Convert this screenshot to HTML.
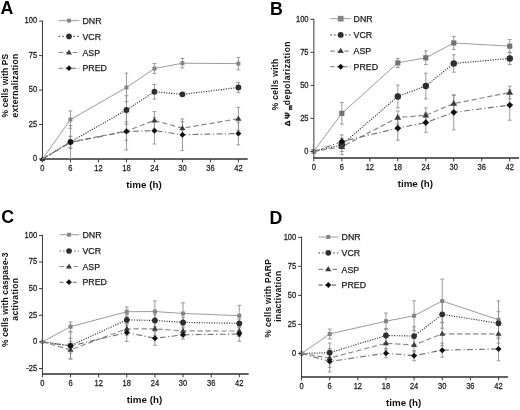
<!DOCTYPE html>
<html><head><meta charset="utf-8"><style>
html,body{margin:0;padding:0;background:#fff;}
body{width:520px;height:410px;overflow:hidden;}
svg{display:block;font-family:"Liberation Sans", sans-serif;will-change:transform;}

.tk{fill:#1c1c1c;stroke:#1c1c1c;stroke-width:0.25px;letter-spacing:0px;}
.lg{fill:#1c1c1c;stroke:#1c1c1c;stroke-width:0.25px;}
</style></head><body>
<svg width="520" height="410" viewBox="0 0 520 410">
<rect width="520" height="410" fill="#fff"/>
<g>
<text x="0.4" y="13.7" font-size="17.8" font-weight="bold" fill="#000">A</text>
<polygon points="42.46,156.15 45.2,160.82 39.72,160.82" fill="#111"/>
<polygon points="42.46,156.63 44.86,159.03 42.46,161.43 40.06,159.03" fill="#111"/>
<path d="M42.46 20.65V159" fill="none" stroke="#3a3a3a" stroke-width="1"/>
<path d="M41.96 159H247.72" fill="none" stroke="#2e2e2e" stroke-width="1.3"/>
<path d="M39.06 159.03H42.46" stroke="#3a3a3a" stroke-width="1"/>
<text transform="translate(37.16 161.33) scale(0.92 1)" font-size="8.2" text-anchor="end" class="tk">0</text>
<path d="M39.06 124.56H42.46" stroke="#3a3a3a" stroke-width="1"/>
<text transform="translate(37.16 126.86) scale(0.92 1)" font-size="8.2" text-anchor="end" class="tk">25</text>
<path d="M39.06 90.09H42.46" stroke="#3a3a3a" stroke-width="1"/>
<text transform="translate(37.16 92.39) scale(0.92 1)" font-size="8.2" text-anchor="end" class="tk">50</text>
<path d="M39.06 55.62H42.46" stroke="#3a3a3a" stroke-width="1"/>
<text transform="translate(37.16 57.92) scale(0.92 1)" font-size="8.2" text-anchor="end" class="tk">75</text>
<path d="M39.06 21.15H42.46" stroke="#3a3a3a" stroke-width="1"/>
<text transform="translate(37.16 23.45) scale(0.92 1)" font-size="8.2" text-anchor="end" class="tk">100</text>
<path d="M42.46 159V162.4" stroke="#3a3a3a" stroke-width="1"/>
<text transform="translate(42.46 171.2) scale(0.92 1)" font-size="8.2" text-anchor="middle" class="tk">0</text>
<path d="M70.45 159V162.4" stroke="#3a3a3a" stroke-width="1"/>
<text transform="translate(70.45 171.2) scale(0.92 1)" font-size="8.2" text-anchor="middle" class="tk">6</text>
<path d="M98.44 159V162.4" stroke="#3a3a3a" stroke-width="1"/>
<text transform="translate(98.44 171.2) scale(0.92 1)" font-size="8.2" text-anchor="middle" class="tk">12</text>
<path d="M126.43 159V162.4" stroke="#3a3a3a" stroke-width="1"/>
<text transform="translate(126.43 171.2) scale(0.92 1)" font-size="8.2" text-anchor="middle" class="tk">18</text>
<path d="M154.42 159V162.4" stroke="#3a3a3a" stroke-width="1"/>
<text transform="translate(154.42 171.2) scale(0.92 1)" font-size="8.2" text-anchor="middle" class="tk">24</text>
<path d="M182.41 159V162.4" stroke="#3a3a3a" stroke-width="1"/>
<text transform="translate(182.41 171.2) scale(0.92 1)" font-size="8.2" text-anchor="middle" class="tk">30</text>
<path d="M210.4 159V162.4" stroke="#3a3a3a" stroke-width="1"/>
<text transform="translate(210.4 171.2) scale(0.92 1)" font-size="8.2" text-anchor="middle" class="tk">36</text>
<path d="M238.39 159V162.4" stroke="#3a3a3a" stroke-width="1"/>
<text transform="translate(238.39 171.2) scale(0.92 1)" font-size="8.2" text-anchor="middle" class="tk">42</text>
<text x="143.96" y="188" font-size="9.8" font-weight="bold" text-anchor="middle" fill="#111">time (h)</text>
<text transform="translate(7.6 85.65) rotate(-90)" font-size="8.5" font-weight="bold" text-anchor="middle" textLength="63.8" lengthAdjust="spacing" fill="#111">% cells with PS</text>
<text transform="translate(17.9 85.65) rotate(-90)" font-size="8.5" font-weight="bold" text-anchor="middle" textLength="63.8" lengthAdjust="spacing" fill="#111">externalization</text>
<path d="M58.7 20.6H79.3" stroke="#9c9c9c" stroke-width="1.0"/>
<rect x="67.06" y="18.66" width="3.88" height="3.88" fill="#858585"/>
<text x="82.5" y="23.8" font-size="8.8" class="lg">DNR</text>
<path d="M58.7 36.4H79.3" stroke="#5a5a5a" stroke-width="1.15" stroke-dasharray="1.5,2.2"/>
<circle cx="69" cy="36.4" r="2.81" fill="#2e2e2e"/>
<text x="82.5" y="39.6" font-size="8.8" class="lg">VCR</text>
<path d="M58.7 52.5H79.3" stroke="#8a8a8a" stroke-width="1.2" stroke-dasharray="4.5,2.5"/>
<polygon points="69,49.4 71.95,54.42 66.05,54.42" fill="#3c3c3c"/>
<text x="82.5" y="55.7" font-size="8.8" class="lg">ASP</text>
<path d="M58.7 68.2H79.3" stroke="#707070" stroke-width="1.1" stroke-dasharray="4.2,2.4"/>
<polygon points="69,65.29 71.91,68.2 69,71.11 66.09,68.2" fill="#101010"/>
<text x="82.5" y="71.4" font-size="8.8" class="lg">PRED</text>
<path d="M70.45 110.91V128.28M68.55 110.91H72.35M68.55 128.28H72.35" stroke="#8e8e8e" stroke-width="0.9" fill="none"/>
<path d="M126.43 73.13V101.81M124.53 73.13H128.33M124.53 101.81H128.33" stroke="#8e8e8e" stroke-width="0.9" fill="none"/>
<path d="M154.42 63.48V73.68M152.52 63.48H156.32M152.52 73.68H156.32" stroke="#8e8e8e" stroke-width="0.9" fill="none"/>
<path d="M182.41 58.52V67.89M180.51 58.52H184.31M180.51 67.89H184.31" stroke="#8e8e8e" stroke-width="0.9" fill="none"/>
<path d="M238.39 57.41V69.82M236.49 57.41H240.29M236.49 69.82H240.29" stroke="#8e8e8e" stroke-width="0.9" fill="none"/>
<path d="M70.45 136.69V147.17M68.55 136.69H72.35M68.55 147.17H72.35" stroke="#8e8e8e" stroke-width="0.9" fill="none"/>
<path d="M126.43 95.74V124.15M124.53 95.74H128.33M124.53 124.15H128.33" stroke="#8e8e8e" stroke-width="0.9" fill="none"/>
<path d="M154.42 84.44V99.05M152.52 84.44H156.32M152.52 99.05H156.32" stroke="#8e8e8e" stroke-width="0.9" fill="none"/>
<path d="M182.41 92.3V96.43M180.51 92.3H184.31M180.51 96.43H184.31" stroke="#8e8e8e" stroke-width="0.9" fill="none"/>
<path d="M238.39 82.51V92.43M236.49 82.51H240.29M236.49 92.43H240.29" stroke="#8e8e8e" stroke-width="0.9" fill="none"/>
<path d="M70.45 125.53V158.62M68.55 125.53H72.35M68.55 158.62H72.35" stroke="#8e8e8e" stroke-width="0.9" fill="none"/>
<path d="M126.43 121.8V140.28M124.53 121.8H128.33M124.53 140.28H128.33" stroke="#8e8e8e" stroke-width="0.9" fill="none"/>
<path d="M154.42 111.6V129.25M152.52 111.6H156.32M152.52 129.25H156.32" stroke="#8e8e8e" stroke-width="0.9" fill="none"/>
<path d="M182.41 121.66V134.63M180.51 121.66H184.31M180.51 134.63H184.31" stroke="#8e8e8e" stroke-width="0.9" fill="none"/>
<path d="M238.39 107.33V130.21M236.49 107.33H240.29M236.49 130.21H240.29" stroke="#8e8e8e" stroke-width="0.9" fill="none"/>
<path d="M70.45 136.14V148.55M68.55 136.14H72.35M68.55 148.55H72.35" stroke="#8e8e8e" stroke-width="0.9" fill="none"/>
<path d="M126.43 112.98V149.93M124.53 112.98H128.33M124.53 149.93H128.33" stroke="#8e8e8e" stroke-width="0.9" fill="none"/>
<path d="M154.42 117.25V144M152.52 117.25H156.32M152.52 144H156.32" stroke="#8e8e8e" stroke-width="0.9" fill="none"/>
<path d="M182.41 118.91V150.62M180.51 118.91H184.31M180.51 150.62H184.31" stroke="#8e8e8e" stroke-width="0.9" fill="none"/>
<path d="M238.39 122.22V144.83M236.49 122.22H240.29M236.49 144.83H240.29" stroke="#8e8e8e" stroke-width="0.9" fill="none"/>
<polyline points="42.46,159.03 70.45,119.6 126.43,87.47 154.42,68.58 182.41,63.2 238.39,63.62" fill="none" stroke="#9c9c9c" stroke-width="1.0"/>
<polyline points="42.46,159.03 70.45,141.93 126.43,109.94 154.42,91.74 182.41,94.36 238.39,87.47" fill="none" stroke="#363636" stroke-width="1.15" stroke-dasharray="1.15,1.35"/>
<polyline points="42.46,159.03 70.45,142.07 126.43,131.04 154.42,120.42 182.41,128.14 238.39,118.77" fill="none" stroke="#8a8a8a" stroke-width="1.2" stroke-dasharray="5.2,2.8"/>
<polyline points="42.46,159.03 70.45,142.35 126.43,131.45 154.42,130.63 182.41,134.76 238.39,133.52" fill="none" stroke="#707070" stroke-width="1.1" stroke-dasharray="5.8,2.5,1.2,2.5"/>
<rect x="68.45" y="117.6" width="4" height="4" fill="#858585"/>
<rect x="124.43" y="85.47" width="4" height="4" fill="#858585"/>
<rect x="152.42" y="66.58" width="4" height="4" fill="#858585"/>
<rect x="180.41" y="61.2" width="4" height="4" fill="#858585"/>
<rect x="236.39" y="61.62" width="4" height="4" fill="#858585"/>
<circle cx="70.45" cy="141.93" r="2.9" fill="#2e2e2e"/>
<circle cx="126.43" cy="109.94" r="2.9" fill="#2e2e2e"/>
<circle cx="154.42" cy="91.74" r="2.9" fill="#2e2e2e"/>
<circle cx="182.41" cy="94.36" r="2.9" fill="#2e2e2e"/>
<circle cx="238.39" cy="87.47" r="2.9" fill="#2e2e2e"/>
<polygon points="70.45,138.87 73.49,144.05 67.41,144.05" fill="#3c3c3c"/>
<polygon points="126.43,127.84 129.47,133.02 123.39,133.02" fill="#3c3c3c"/>
<polygon points="154.42,117.22 157.46,122.41 151.38,122.41" fill="#3c3c3c"/>
<polygon points="182.41,124.94 185.45,130.13 179.37,130.13" fill="#3c3c3c"/>
<polygon points="238.39,115.57 241.43,120.75 235.35,120.75" fill="#3c3c3c"/>
<polygon points="70.45,139.35 73.45,142.35 70.45,145.35 67.45,142.35" fill="#101010"/>
<polygon points="126.43,128.45 129.43,131.45 126.43,134.45 123.43,131.45" fill="#101010"/>
<polygon points="154.42,127.63 157.42,130.63 154.42,133.63 151.42,130.63" fill="#101010"/>
<polygon points="182.41,131.76 185.41,134.76 182.41,137.76 179.41,134.76" fill="#101010"/>
<polygon points="238.39,130.52 241.39,133.52 238.39,136.52 235.39,133.52" fill="#101010"/>
<text x="270" y="15.1" font-size="17.8" font-weight="bold" fill="#000">B</text>
<polygon points="313.85,148.7 316.55,151.4 313.85,154.1 311.15,151.4" fill="#333"/>
<rect x="311.45" y="149" width="4.8" height="4.8" fill="#8a8a8a"/>
<path d="M313.85 18.84V158" fill="none" stroke="#3a3a3a" stroke-width="1"/>
<path d="M313.35 158H519.07" fill="none" stroke="#2e2e2e" stroke-width="1.3"/>
<path d="M310.45 151.4H313.85" stroke="#3a3a3a" stroke-width="1"/>
<text transform="translate(308.55 153.7) scale(0.92 1)" font-size="8.2" text-anchor="end" class="tk">0</text>
<path d="M310.45 118.39H313.85" stroke="#3a3a3a" stroke-width="1"/>
<text transform="translate(308.55 120.69) scale(0.92 1)" font-size="8.2" text-anchor="end" class="tk">25</text>
<path d="M310.45 85.37H313.85" stroke="#3a3a3a" stroke-width="1"/>
<text transform="translate(308.55 87.67) scale(0.92 1)" font-size="8.2" text-anchor="end" class="tk">50</text>
<path d="M310.45 52.36H313.85" stroke="#3a3a3a" stroke-width="1"/>
<text transform="translate(308.55 54.66) scale(0.92 1)" font-size="8.2" text-anchor="end" class="tk">75</text>
<path d="M310.45 19.34H313.85" stroke="#3a3a3a" stroke-width="1"/>
<text transform="translate(308.55 21.64) scale(0.92 1)" font-size="8.2" text-anchor="end" class="tk">100</text>
<path d="M313.85 158V161.4" stroke="#3a3a3a" stroke-width="1"/>
<text transform="translate(313.85 170.2) scale(0.92 1)" font-size="8.2" text-anchor="middle" class="tk">0</text>
<path d="M341.83 158V161.4" stroke="#3a3a3a" stroke-width="1"/>
<text transform="translate(341.83 170.2) scale(0.92 1)" font-size="8.2" text-anchor="middle" class="tk">6</text>
<path d="M369.82 158V161.4" stroke="#3a3a3a" stroke-width="1"/>
<text transform="translate(369.82 170.2) scale(0.92 1)" font-size="8.2" text-anchor="middle" class="tk">12</text>
<path d="M397.8 158V161.4" stroke="#3a3a3a" stroke-width="1"/>
<text transform="translate(397.8 170.2) scale(0.92 1)" font-size="8.2" text-anchor="middle" class="tk">18</text>
<path d="M425.79 158V161.4" stroke="#3a3a3a" stroke-width="1"/>
<text transform="translate(425.79 170.2) scale(0.92 1)" font-size="8.2" text-anchor="middle" class="tk">24</text>
<path d="M453.77 158V161.4" stroke="#3a3a3a" stroke-width="1"/>
<text transform="translate(453.77 170.2) scale(0.92 1)" font-size="8.2" text-anchor="middle" class="tk">30</text>
<path d="M481.75 158V161.4" stroke="#3a3a3a" stroke-width="1"/>
<text transform="translate(481.75 170.2) scale(0.92 1)" font-size="8.2" text-anchor="middle" class="tk">36</text>
<path d="M509.74 158V161.4" stroke="#3a3a3a" stroke-width="1"/>
<text transform="translate(509.74 170.2) scale(0.92 1)" font-size="8.2" text-anchor="middle" class="tk">42</text>
<text x="415.35" y="187" font-size="9.8" font-weight="bold" text-anchor="middle" fill="#111">time (h)</text>
<text transform="translate(278.4 84.5) rotate(-90)" font-size="8.5" font-weight="bold" text-anchor="middle" textLength="51.3" lengthAdjust="spacing" fill="#111">% cells with</text>
<text transform="translate(289.5 123.25) rotate(-90)" font-size="8.0" font-weight="bold" text-anchor="middle" textLength="5.4" lengthAdjust="spacing" fill="#111" stroke="#111" stroke-width="0.35">Δ</text>
<text transform="translate(289.5 115.4) rotate(-90)" font-size="8.0" font-weight="bold" text-anchor="middle" textLength="6.7" lengthAdjust="spacing" fill="#111" stroke="#111" stroke-width="0.35">Ψ</text>
<text transform="translate(291.8 107.7) rotate(-90)" font-size="5.8" font-weight="bold" text-anchor="middle" textLength="3.7" lengthAdjust="spacing" fill="#111" stroke="#111" stroke-width="0.35">m</text>
<text transform="translate(289.5 73.3) rotate(-90)" font-size="8.5" font-weight="bold" text-anchor="middle" textLength="63.7" lengthAdjust="spacing" fill="#111">depolarization</text>
<path d="M330.3 18.7H350.9" stroke="#9c9c9c" stroke-width="1.0"/>
<rect x="337.84" y="15.84" width="5.71" height="5.71" fill="#858585"/>
<text x="353.6" y="21.9" font-size="8.8" class="lg">DNR</text>
<path d="M330.3 34.9H350.9" stroke="#5a5a5a" stroke-width="1.15" stroke-dasharray="1.5,2.2"/>
<circle cx="340.7" cy="34.9" r="2.96" fill="#2e2e2e"/>
<text x="353.6" y="38.1" font-size="8.8" class="lg">VCR</text>
<path d="M330.3 51.1H350.9" stroke="#8a8a8a" stroke-width="1.2" stroke-dasharray="4.5,2.5"/>
<polygon points="340.7,47.84 343.8,53.12 337.6,53.12" fill="#3c3c3c"/>
<text x="353.6" y="54.3" font-size="8.8" class="lg">ASP</text>
<path d="M330.3 66.7H350.9" stroke="#707070" stroke-width="1.1" stroke-dasharray="4.2,2.4"/>
<polygon points="340.7,63.64 343.76,66.7 340.7,69.76 337.64,66.7" fill="#101010"/>
<text x="353.6" y="69.9" font-size="8.8" class="lg">PRED</text>
<path d="M341.83 102.54V124.2M339.93 102.54H343.73M339.93 124.2H343.73" stroke="#8e8e8e" stroke-width="0.9" fill="none"/>
<path d="M397.8 58.3V67.54M395.9 58.3H399.7M395.9 67.54H399.7" stroke="#8e8e8e" stroke-width="0.9" fill="none"/>
<path d="M425.79 50.9V64.64M423.89 50.9H427.69M423.89 64.64H427.69" stroke="#8e8e8e" stroke-width="0.9" fill="none"/>
<path d="M453.77 36.38V49.58M451.87 36.38H455.67M451.87 49.58H455.67" stroke="#8e8e8e" stroke-width="0.9" fill="none"/>
<path d="M509.74 39.55V52.75M507.84 39.55H511.64M507.84 52.75H511.64" stroke="#8e8e8e" stroke-width="0.9" fill="none"/>
<path d="M341.83 138.19V151.4M339.93 138.19H343.73M339.93 151.4H343.73" stroke="#8e8e8e" stroke-width="0.9" fill="none"/>
<path d="M397.8 85.11V107.82M395.9 85.11H399.7M395.9 107.82H399.7" stroke="#8e8e8e" stroke-width="0.9" fill="none"/>
<path d="M425.79 73.22V98.84M423.89 73.22H427.69M423.89 98.84H427.69" stroke="#8e8e8e" stroke-width="0.9" fill="none"/>
<path d="M453.77 54.73V72.16M451.87 54.73H455.67M451.87 72.16H455.67" stroke="#8e8e8e" stroke-width="0.9" fill="none"/>
<path d="M509.74 52.22V64.64M507.84 52.22H511.64M507.84 64.64H511.64" stroke="#8e8e8e" stroke-width="0.9" fill="none"/>
<path d="M341.83 138.85V154.7M339.93 138.85H343.73M339.93 154.7H343.73" stroke="#8e8e8e" stroke-width="0.9" fill="none"/>
<path d="M397.8 110.99V124.2M395.9 110.99H399.7M395.9 124.2H399.7" stroke="#8e8e8e" stroke-width="0.9" fill="none"/>
<path d="M425.79 107.95V122.48M423.89 107.95H427.69M423.89 122.48H427.69" stroke="#8e8e8e" stroke-width="0.9" fill="none"/>
<path d="M453.77 95.41V111.78M451.87 95.41H455.67M451.87 111.78H455.67" stroke="#8e8e8e" stroke-width="0.9" fill="none"/>
<path d="M509.74 86.16V98.84M507.84 86.16H511.64M507.84 98.84H511.64" stroke="#8e8e8e" stroke-width="0.9" fill="none"/>
<path d="M341.83 134.89V148.1M339.93 134.89H343.73M339.93 148.1H343.73" stroke="#8e8e8e" stroke-width="0.9" fill="none"/>
<path d="M397.8 116.14V140.17M395.9 116.14H399.7M395.9 140.17H399.7" stroke="#8e8e8e" stroke-width="0.9" fill="none"/>
<path d="M425.79 112.97V132.25M423.89 112.97H427.69M423.89 132.25H427.69" stroke="#8e8e8e" stroke-width="0.9" fill="none"/>
<path d="M453.77 94.75V129.87M451.87 94.75H455.67M451.87 129.87H455.67" stroke="#8e8e8e" stroke-width="0.9" fill="none"/>
<path d="M509.74 89.86V120.23M507.84 89.86H511.64M507.84 120.23H511.64" stroke="#8e8e8e" stroke-width="0.9" fill="none"/>
<polyline points="313.85,151.4 341.83,113.37 397.8,62.92 425.79,57.77 453.77,42.98 509.74,46.15" fill="none" stroke="#9c9c9c" stroke-width="1.0"/>
<polyline points="313.85,151.4 341.83,144.8 397.8,96.46 425.79,86.03 453.77,63.45 509.74,58.43" fill="none" stroke="#363636" stroke-width="1.15" stroke-dasharray="1.15,1.35"/>
<polyline points="313.85,151.4 341.83,146.78 397.8,117.59 425.79,115.22 453.77,103.59 509.74,92.5" fill="none" stroke="#8a8a8a" stroke-width="1.2" stroke-dasharray="5.2,2.8"/>
<polyline points="313.85,151.4 341.83,141.5 397.8,128.16 425.79,122.61 453.77,112.31 509.74,105.05" fill="none" stroke="#707070" stroke-width="1.1" stroke-dasharray="5.8,2.5,1.2,2.5"/>
<rect x="339.26" y="110.79" width="5.15" height="5.15" fill="#727272"/>
<rect x="395.23" y="60.34" width="5.15" height="5.15" fill="#727272"/>
<rect x="423.21" y="55.19" width="5.15" height="5.15" fill="#727272"/>
<rect x="451.19" y="40.4" width="5.15" height="5.15" fill="#727272"/>
<rect x="507.16" y="43.57" width="5.15" height="5.15" fill="#727272"/>
<circle cx="341.83" cy="144.8" r="3.25" fill="#2e2e2e"/>
<circle cx="397.8" cy="96.46" r="3.25" fill="#2e2e2e"/>
<circle cx="425.79" cy="86.03" r="3.25" fill="#2e2e2e"/>
<circle cx="453.77" cy="63.45" r="3.25" fill="#2e2e2e"/>
<circle cx="509.74" cy="58.43" r="3.25" fill="#2e2e2e"/>
<polygon points="341.83,143.19 345.24,149 338.43,149" fill="#3c3c3c"/>
<polygon points="397.8,114.01 401.21,119.81 394.4,119.81" fill="#3c3c3c"/>
<polygon points="425.79,111.63 429.19,117.44 422.38,117.44" fill="#3c3c3c"/>
<polygon points="453.77,100.01 457.17,105.82 450.37,105.82" fill="#3c3c3c"/>
<polygon points="509.74,88.92 513.14,94.72 506.33,94.72" fill="#3c3c3c"/>
<polygon points="341.83,138.14 345.19,141.5 341.83,144.86 338.47,141.5" fill="#101010"/>
<polygon points="397.8,124.8 401.16,128.16 397.8,131.52 394.44,128.16" fill="#101010"/>
<polygon points="425.79,119.25 429.15,122.61 425.79,125.97 422.43,122.61" fill="#101010"/>
<polygon points="453.77,108.95 457.13,112.31 453.77,115.67 450.41,112.31" fill="#101010"/>
<polygon points="509.74,101.69 513.1,105.05 509.74,108.41 506.38,105.05" fill="#101010"/>
<text x="1.2" y="223.4" font-size="17.8" font-weight="bold" fill="#000">C</text>
<polygon points="42.43,338.88 45.43,341.88 42.43,344.88 39.43,341.88" fill="#808080"/>
<rect x="41.23" y="340.68" width="2.4" height="2.4" fill="#d4d4d4"/>
<path d="M42.43 234.9V374" fill="none" stroke="#3a3a3a" stroke-width="1"/>
<path d="M41.93 374H248.66" fill="none" stroke="#2e2e2e" stroke-width="1.3"/>
<path d="M39.03 368.5H42.43" stroke="#3a3a3a" stroke-width="1"/>
<text transform="translate(37.13 370.8) scale(0.92 1)" font-size="8.2" text-anchor="end" class="tk">-25</text>
<path d="M39.03 341.88H42.43" stroke="#3a3a3a" stroke-width="1"/>
<text transform="translate(37.13 344.18) scale(0.92 1)" font-size="8.2" text-anchor="end" class="tk">0</text>
<path d="M39.03 315.26H42.43" stroke="#3a3a3a" stroke-width="1"/>
<text transform="translate(37.13 317.56) scale(0.92 1)" font-size="8.2" text-anchor="end" class="tk">25</text>
<path d="M39.03 288.64H42.43" stroke="#3a3a3a" stroke-width="1"/>
<text transform="translate(37.13 290.94) scale(0.92 1)" font-size="8.2" text-anchor="end" class="tk">50</text>
<path d="M39.03 262.02H42.43" stroke="#3a3a3a" stroke-width="1"/>
<text transform="translate(37.13 264.32) scale(0.92 1)" font-size="8.2" text-anchor="end" class="tk">75</text>
<path d="M39.03 235.4H42.43" stroke="#3a3a3a" stroke-width="1"/>
<text transform="translate(37.13 237.7) scale(0.92 1)" font-size="8.2" text-anchor="end" class="tk">100</text>
<path d="M42.43 374V377.4" stroke="#3a3a3a" stroke-width="1"/>
<text transform="translate(42.43 386.2) scale(0.92 1)" font-size="8.2" text-anchor="middle" class="tk">0</text>
<path d="M70.55 374V377.4" stroke="#3a3a3a" stroke-width="1"/>
<text transform="translate(70.55 386.2) scale(0.92 1)" font-size="8.2" text-anchor="middle" class="tk">6</text>
<path d="M98.67 374V377.4" stroke="#3a3a3a" stroke-width="1"/>
<text transform="translate(98.67 386.2) scale(0.92 1)" font-size="8.2" text-anchor="middle" class="tk">12</text>
<path d="M126.8 374V377.4" stroke="#3a3a3a" stroke-width="1"/>
<text transform="translate(126.8 386.2) scale(0.92 1)" font-size="8.2" text-anchor="middle" class="tk">18</text>
<path d="M154.92 374V377.4" stroke="#3a3a3a" stroke-width="1"/>
<text transform="translate(154.92 386.2) scale(0.92 1)" font-size="8.2" text-anchor="middle" class="tk">24</text>
<path d="M183.04 374V377.4" stroke="#3a3a3a" stroke-width="1"/>
<text transform="translate(183.04 386.2) scale(0.92 1)" font-size="8.2" text-anchor="middle" class="tk">30</text>
<path d="M211.16 374V377.4" stroke="#3a3a3a" stroke-width="1"/>
<text transform="translate(211.16 386.2) scale(0.92 1)" font-size="8.2" text-anchor="middle" class="tk">36</text>
<path d="M239.28 374V377.4" stroke="#3a3a3a" stroke-width="1"/>
<text transform="translate(239.28 386.2) scale(0.92 1)" font-size="8.2" text-anchor="middle" class="tk">42</text>
<text x="144.53" y="403" font-size="9.8" font-weight="bold" text-anchor="middle" fill="#111">time (h)</text>
<text transform="translate(7.7 299.75) rotate(-90)" font-size="8.5" font-weight="bold" text-anchor="middle" textLength="94.6" lengthAdjust="spacing" fill="#111">% cells with caspase-3</text>
<text transform="translate(18 299.35) rotate(-90)" font-size="8.5" font-weight="bold" text-anchor="middle" textLength="42.6" lengthAdjust="spacing" fill="#111">activation</text>
<path d="M59.4 234.7H79" stroke="#9c9c9c" stroke-width="1.0"/>
<rect x="67.06" y="232.76" width="3.88" height="3.88" fill="#858585"/>
<text x="82.5" y="237.9" font-size="8.8" class="lg">DNR</text>
<path d="M59.4 251H79" stroke="#5a5a5a" stroke-width="1.15" stroke-dasharray="1.5,2.2"/>
<circle cx="69" cy="251" r="2.81" fill="#2e2e2e"/>
<text x="82.5" y="254.2" font-size="8.8" class="lg">VCR</text>
<path d="M59.4 266.5H79" stroke="#8a8a8a" stroke-width="1.2" stroke-dasharray="4.5,2.5"/>
<polygon points="69,263.4 71.95,268.42 66.05,268.42" fill="#3c3c3c"/>
<text x="82.5" y="269.7" font-size="8.8" class="lg">ASP</text>
<path d="M59.4 282.2H79" stroke="#707070" stroke-width="1.1" stroke-dasharray="4.2,2.4"/>
<polygon points="69,279.29 71.91,282.2 69,285.11 66.09,282.2" fill="#101010"/>
<text x="82.5" y="285.4" font-size="8.8" class="lg">PRED</text>
<path d="M70.55 321.86V331.44M68.65 321.86H72.45M68.65 331.44H72.45" stroke="#8e8e8e" stroke-width="0.9" fill="none"/>
<path d="M126.8 306.95V316.54M124.9 306.95H128.7M124.9 316.54H128.7" stroke="#8e8e8e" stroke-width="0.9" fill="none"/>
<path d="M154.92 300.89V322.18M153.02 300.89H156.82M153.02 322.18H156.82" stroke="#8e8e8e" stroke-width="0.9" fill="none"/>
<path d="M183.04 302.8V324.1M181.14 302.8H184.94M181.14 324.1H184.94" stroke="#8e8e8e" stroke-width="0.9" fill="none"/>
<path d="M239.28 305.36V326.01M237.38 305.36H241.18M237.38 326.01H241.18" stroke="#8e8e8e" stroke-width="0.9" fill="none"/>
<path d="M70.55 338.15V353.06M68.65 338.15H72.45M68.65 353.06H72.45" stroke="#8e8e8e" stroke-width="0.9" fill="none"/>
<path d="M126.8 314.51V325.16M124.9 314.51H128.7M124.9 325.16H128.7" stroke="#8e8e8e" stroke-width="0.9" fill="none"/>
<path d="M154.92 314.09V326.87M153.02 314.09H156.82M153.02 326.87H156.82" stroke="#8e8e8e" stroke-width="0.9" fill="none"/>
<path d="M183.04 317.07V327.72M181.14 317.07H184.94M181.14 327.72H184.94" stroke="#8e8e8e" stroke-width="0.9" fill="none"/>
<path d="M239.28 319.09V327.61M237.38 319.09H241.18M237.38 327.61H241.18" stroke="#8e8e8e" stroke-width="0.9" fill="none"/>
<path d="M70.55 341.24V358.28M68.65 341.24H72.45M68.65 358.28H72.45" stroke="#8e8e8e" stroke-width="0.9" fill="none"/>
<path d="M126.8 322.39V335.17M124.9 322.39H128.7M124.9 335.17H128.7" stroke="#8e8e8e" stroke-width="0.9" fill="none"/>
<path d="M154.92 322.5V335.28M153.02 322.5H156.82M153.02 335.28H156.82" stroke="#8e8e8e" stroke-width="0.9" fill="none"/>
<path d="M183.04 325.59V336.24M181.14 325.59H184.94M181.14 336.24H184.94" stroke="#8e8e8e" stroke-width="0.9" fill="none"/>
<path d="M239.28 325.7V336.34M237.38 325.7H241.18M237.38 336.34H241.18" stroke="#8e8e8e" stroke-width="0.9" fill="none"/>
<path d="M70.55 332.83V359.24M68.65 332.83H72.45M68.65 359.24H72.45" stroke="#8e8e8e" stroke-width="0.9" fill="none"/>
<path d="M126.8 323.46V341.56M124.9 323.46H128.7M124.9 341.56H128.7" stroke="#8e8e8e" stroke-width="0.9" fill="none"/>
<path d="M154.92 331.23V345.29M153.02 331.23H156.82M153.02 345.29H156.82" stroke="#8e8e8e" stroke-width="0.9" fill="none"/>
<path d="M183.04 330.59V339.11M181.14 330.59H184.94M181.14 339.11H184.94" stroke="#8e8e8e" stroke-width="0.9" fill="none"/>
<path d="M239.28 326.87V341.13M237.38 326.87H241.18M237.38 341.13H241.18" stroke="#8e8e8e" stroke-width="0.9" fill="none"/>
<polyline points="42.43,341.88 70.55,326.65 126.8,311.75 154.92,311.53 183.04,313.45 239.28,315.69" fill="none" stroke="#9c9c9c" stroke-width="1.0"/>
<polyline points="42.43,341.88 70.55,345.61 126.8,319.84 154.92,320.48 183.04,322.39 239.28,323.35" fill="none" stroke="#363636" stroke-width="1.15" stroke-dasharray="1.15,1.35"/>
<polyline points="42.43,341.88 70.55,349.76 126.8,328.78 154.92,328.89 183.04,330.91 239.28,331.02" fill="none" stroke="#8a8a8a" stroke-width="1.2" stroke-dasharray="5.2,2.8"/>
<polyline points="42.43,341.88 70.55,346.03 126.8,332.51 154.92,338.26 183.04,334.85 239.28,334" fill="none" stroke="#707070" stroke-width="1.1" stroke-dasharray="5.8,2.5,1.2,2.5"/>
<rect x="68.55" y="324.65" width="4" height="4" fill="#858585"/>
<rect x="124.8" y="309.75" width="4" height="4" fill="#858585"/>
<rect x="152.92" y="309.53" width="4" height="4" fill="#858585"/>
<rect x="181.04" y="311.45" width="4" height="4" fill="#858585"/>
<rect x="237.28" y="313.69" width="4" height="4" fill="#858585"/>
<circle cx="70.55" cy="345.61" r="2.9" fill="#2e2e2e"/>
<circle cx="126.8" cy="319.84" r="2.9" fill="#2e2e2e"/>
<circle cx="154.92" cy="320.48" r="2.9" fill="#2e2e2e"/>
<circle cx="183.04" cy="322.39" r="2.9" fill="#2e2e2e"/>
<circle cx="239.28" cy="323.35" r="2.9" fill="#2e2e2e"/>
<polygon points="70.55,346.56 73.59,351.74 67.51,351.74" fill="#3c3c3c"/>
<polygon points="126.8,325.58 129.84,330.77 123.76,330.77" fill="#3c3c3c"/>
<polygon points="154.92,325.69 157.96,330.87 151.88,330.87" fill="#3c3c3c"/>
<polygon points="183.04,327.71 186.08,332.9 180,332.9" fill="#3c3c3c"/>
<polygon points="239.28,327.82 242.32,333 236.24,333" fill="#3c3c3c"/>
<polygon points="70.55,343.03 73.55,346.03 70.55,349.03 67.55,346.03" fill="#101010"/>
<polygon points="126.8,329.51 129.8,332.51 126.8,335.51 123.8,332.51" fill="#101010"/>
<polygon points="154.92,335.26 157.92,338.26 154.92,341.26 151.92,338.26" fill="#101010"/>
<polygon points="183.04,331.85 186.04,334.85 183.04,337.85 180.04,334.85" fill="#101010"/>
<polygon points="239.28,331 242.28,334 239.28,337 236.28,334" fill="#101010"/>
<text x="269.6" y="223.6" font-size="17.8" font-weight="bold" fill="#000">D</text>
<polygon points="301.55,350.5 304.55,353.5 301.55,356.5 298.55,353.5" fill="#444"/>
<rect x="299.55" y="351.5" width="4" height="4" fill="#999"/>
<path d="M301.55 236.8V377" fill="none" stroke="#3a3a3a" stroke-width="1"/>
<path d="M301.05 377H507.87" fill="none" stroke="#2e2e2e" stroke-width="1.3"/>
<path d="M298.15 353.5H301.55" stroke="#3a3a3a" stroke-width="1"/>
<text transform="translate(296.25 355.8) scale(0.92 1)" font-size="8.2" text-anchor="end" class="tk">0</text>
<path d="M298.15 324.45H301.55" stroke="#3a3a3a" stroke-width="1"/>
<text transform="translate(296.25 326.75) scale(0.92 1)" font-size="8.2" text-anchor="end" class="tk">25</text>
<path d="M298.15 295.4H301.55" stroke="#3a3a3a" stroke-width="1"/>
<text transform="translate(296.25 297.7) scale(0.92 1)" font-size="8.2" text-anchor="end" class="tk">50</text>
<path d="M298.15 266.35H301.55" stroke="#3a3a3a" stroke-width="1"/>
<text transform="translate(296.25 268.65) scale(0.92 1)" font-size="8.2" text-anchor="end" class="tk">75</text>
<path d="M298.15 237.3H301.55" stroke="#3a3a3a" stroke-width="1"/>
<text transform="translate(296.25 239.6) scale(0.92 1)" font-size="8.2" text-anchor="end" class="tk">100</text>
<path d="M301.55 377V380.4" stroke="#3a3a3a" stroke-width="1"/>
<text transform="translate(301.55 389.2) scale(0.92 1)" font-size="8.2" text-anchor="middle" class="tk">0</text>
<path d="M329.68 377V380.4" stroke="#3a3a3a" stroke-width="1"/>
<text transform="translate(329.68 389.2) scale(0.92 1)" font-size="8.2" text-anchor="middle" class="tk">6</text>
<path d="M357.82 377V380.4" stroke="#3a3a3a" stroke-width="1"/>
<text transform="translate(357.82 389.2) scale(0.92 1)" font-size="8.2" text-anchor="middle" class="tk">12</text>
<path d="M385.95 377V380.4" stroke="#3a3a3a" stroke-width="1"/>
<text transform="translate(385.95 389.2) scale(0.92 1)" font-size="8.2" text-anchor="middle" class="tk">18</text>
<path d="M414.09 377V380.4" stroke="#3a3a3a" stroke-width="1"/>
<text transform="translate(414.09 389.2) scale(0.92 1)" font-size="8.2" text-anchor="middle" class="tk">24</text>
<path d="M442.22 377V380.4" stroke="#3a3a3a" stroke-width="1"/>
<text transform="translate(442.22 389.2) scale(0.92 1)" font-size="8.2" text-anchor="middle" class="tk">30</text>
<path d="M470.35 377V380.4" stroke="#3a3a3a" stroke-width="1"/>
<text transform="translate(470.35 389.2) scale(0.92 1)" font-size="8.2" text-anchor="middle" class="tk">36</text>
<path d="M498.49 377V380.4" stroke="#3a3a3a" stroke-width="1"/>
<text transform="translate(498.49 389.2) scale(0.92 1)" font-size="8.2" text-anchor="middle" class="tk">42</text>
<text x="403.65" y="406" font-size="9.8" font-weight="bold" text-anchor="middle" fill="#111">time (h)</text>
<text transform="translate(270.5 298.3) rotate(-90)" font-size="8.5" font-weight="bold" text-anchor="middle" textLength="78.5" lengthAdjust="spacing" fill="#111">% cells with PARP</text>
<text transform="translate(280.8 296.3) rotate(-90)" font-size="8.5" font-weight="bold" text-anchor="middle" textLength="51.1" lengthAdjust="spacing" fill="#111">inactivation</text>
<path d="M318.5 237H338.2" stroke="#9c9c9c" stroke-width="1.0"/>
<rect x="326.3" y="235" width="4" height="4" fill="#858585"/>
<text x="341.6" y="240.2" font-size="8.8" class="lg">DNR</text>
<path d="M318.5 252.8H338.2" stroke="#5a5a5a" stroke-width="1.15" stroke-dasharray="1.5,2.2"/>
<circle cx="328.3" cy="252.8" r="2.9" fill="#2e2e2e"/>
<text x="341.6" y="256" font-size="8.8" class="lg">VCR</text>
<path d="M318.5 269.3H338.2" stroke="#8a8a8a" stroke-width="1.2" stroke-dasharray="4.5,2.5"/>
<polygon points="328.3,266.1 331.34,271.28 325.26,271.28" fill="#3c3c3c"/>
<text x="341.6" y="272.5" font-size="8.8" class="lg">ASP</text>
<path d="M318.5 285.1H338.2" stroke="#707070" stroke-width="1.1" stroke-dasharray="4.2,2.4"/>
<polygon points="328.3,282.1 331.3,285.1 328.3,288.1 325.3,285.1" fill="#101010"/>
<text x="341.6" y="288.3" font-size="8.8" class="lg">PRED</text>
<path d="M329.68 329.1V338.86M327.78 329.1H331.58M327.78 338.86H331.58" stroke="#8e8e8e" stroke-width="0.9" fill="none"/>
<path d="M385.95 313.06V329.33M384.05 313.06H387.85M384.05 329.33H387.85" stroke="#8e8e8e" stroke-width="0.9" fill="none"/>
<path d="M414.09 300.86V330.61M412.19 300.86H415.99M412.19 330.61H415.99" stroke="#8e8e8e" stroke-width="0.9" fill="none"/>
<path d="M442.22 279.13V322.82M440.32 279.13H444.12M440.32 322.82H444.12" stroke="#8e8e8e" stroke-width="0.9" fill="none"/>
<path d="M498.49 300.86V338.74M496.59 300.86H500.39M496.59 338.74H500.39" stroke="#8e8e8e" stroke-width="0.9" fill="none"/>
<path d="M329.68 343.04V362.33M327.78 343.04H331.58M327.78 362.33H331.58" stroke="#8e8e8e" stroke-width="0.9" fill="none"/>
<path d="M385.95 328.52V342.46M384.05 328.52H387.85M384.05 342.46H387.85" stroke="#8e8e8e" stroke-width="0.9" fill="none"/>
<path d="M414.09 326.77V345.37M412.19 326.77H415.99M412.19 345.37H415.99" stroke="#8e8e8e" stroke-width="0.9" fill="none"/>
<path d="M442.22 300.4V328.28M440.32 300.4H444.12M440.32 328.28H444.12" stroke="#8e8e8e" stroke-width="0.9" fill="none"/>
<path d="M498.49 311.67V334.91M496.59 311.67H500.39M496.59 334.91H500.39" stroke="#8e8e8e" stroke-width="0.9" fill="none"/>
<path d="M329.68 348.74V367.33M327.78 348.74H331.58M327.78 367.33H331.58" stroke="#8e8e8e" stroke-width="0.9" fill="none"/>
<path d="M385.95 336.3V350.25M384.05 336.3H387.85M384.05 350.25H387.85" stroke="#8e8e8e" stroke-width="0.9" fill="none"/>
<path d="M414.09 338.05V351.99M412.19 338.05H415.99M412.19 351.99H415.99" stroke="#8e8e8e" stroke-width="0.9" fill="none"/>
<path d="M442.22 322.24V345.48M440.32 322.24H444.12M440.32 345.48H444.12" stroke="#8e8e8e" stroke-width="0.9" fill="none"/>
<path d="M498.49 324.57V343.16M496.59 324.57H500.39M496.59 343.16H500.39" stroke="#8e8e8e" stroke-width="0.9" fill="none"/>
<path d="M329.68 351.06V371.98M327.78 351.06H331.58M327.78 371.98H331.58" stroke="#8e8e8e" stroke-width="0.9" fill="none"/>
<path d="M385.95 348.5V357.8M384.05 348.5H387.85M384.05 357.8H387.85" stroke="#8e8e8e" stroke-width="0.9" fill="none"/>
<path d="M414.09 350.6V360.82M412.19 350.6H415.99M412.19 360.82H415.99" stroke="#8e8e8e" stroke-width="0.9" fill="none"/>
<path d="M442.22 343.16V357.1M440.32 343.16H444.12M440.32 357.1H444.12" stroke="#8e8e8e" stroke-width="0.9" fill="none"/>
<path d="M498.49 337.12V360.82M496.59 337.12H500.39M496.59 360.82H500.39" stroke="#8e8e8e" stroke-width="0.9" fill="none"/>
<polyline points="301.55,353.5 329.68,333.98 385.95,321.2 414.09,315.74 442.22,300.98 498.49,319.8" fill="none" stroke="#9c9c9c" stroke-width="1.0"/>
<polyline points="301.55,353.5 329.68,352.69 385.95,335.49 414.09,336.07 442.22,314.34 498.49,323.29" fill="none" stroke="#363636" stroke-width="1.15" stroke-dasharray="1.15,1.35"/>
<polyline points="301.55,353.5 329.68,358.03 385.95,343.27 414.09,345.02 442.22,333.86 498.49,333.86" fill="none" stroke="#8a8a8a" stroke-width="1.2" stroke-dasharray="5.2,2.8"/>
<polyline points="301.55,353.5 329.68,361.52 385.95,353.15 414.09,355.71 442.22,350.13 498.49,348.97" fill="none" stroke="#707070" stroke-width="1.1" stroke-dasharray="5.8,2.5,1.2,2.5"/>
<rect x="327.68" y="331.98" width="4" height="4" fill="#858585"/>
<rect x="383.95" y="319.2" width="4" height="4" fill="#858585"/>
<rect x="412.09" y="313.74" width="4" height="4" fill="#858585"/>
<rect x="440.22" y="298.98" width="4" height="4" fill="#858585"/>
<rect x="496.49" y="317.8" width="4" height="4" fill="#858585"/>
<circle cx="329.68" cy="352.69" r="2.9" fill="#2e2e2e"/>
<circle cx="385.95" cy="335.49" r="2.9" fill="#2e2e2e"/>
<circle cx="414.09" cy="336.07" r="2.9" fill="#2e2e2e"/>
<circle cx="442.22" cy="314.34" r="2.9" fill="#2e2e2e"/>
<circle cx="498.49" cy="323.29" r="2.9" fill="#2e2e2e"/>
<polygon points="329.68,354.83 332.72,360.02 326.64,360.02" fill="#3c3c3c"/>
<polygon points="385.95,340.07 388.99,345.26 382.91,345.26" fill="#3c3c3c"/>
<polygon points="414.09,341.82 417.13,347 411.05,347" fill="#3c3c3c"/>
<polygon points="442.22,330.66 445.26,335.85 439.18,335.85" fill="#3c3c3c"/>
<polygon points="498.49,330.66 501.53,335.85 495.45,335.85" fill="#3c3c3c"/>
<polygon points="329.68,358.52 332.68,361.52 329.68,364.52 326.68,361.52" fill="#101010"/>
<polygon points="385.95,350.15 388.95,353.15 385.95,356.15 382.95,353.15" fill="#101010"/>
<polygon points="414.09,352.71 417.09,355.71 414.09,358.71 411.09,355.71" fill="#101010"/>
<polygon points="442.22,347.13 445.22,350.13 442.22,353.13 439.22,350.13" fill="#101010"/>
<polygon points="498.49,345.97 501.49,348.97 498.49,351.97 495.49,348.97" fill="#101010"/>
</g>
</svg>
</body></html>
